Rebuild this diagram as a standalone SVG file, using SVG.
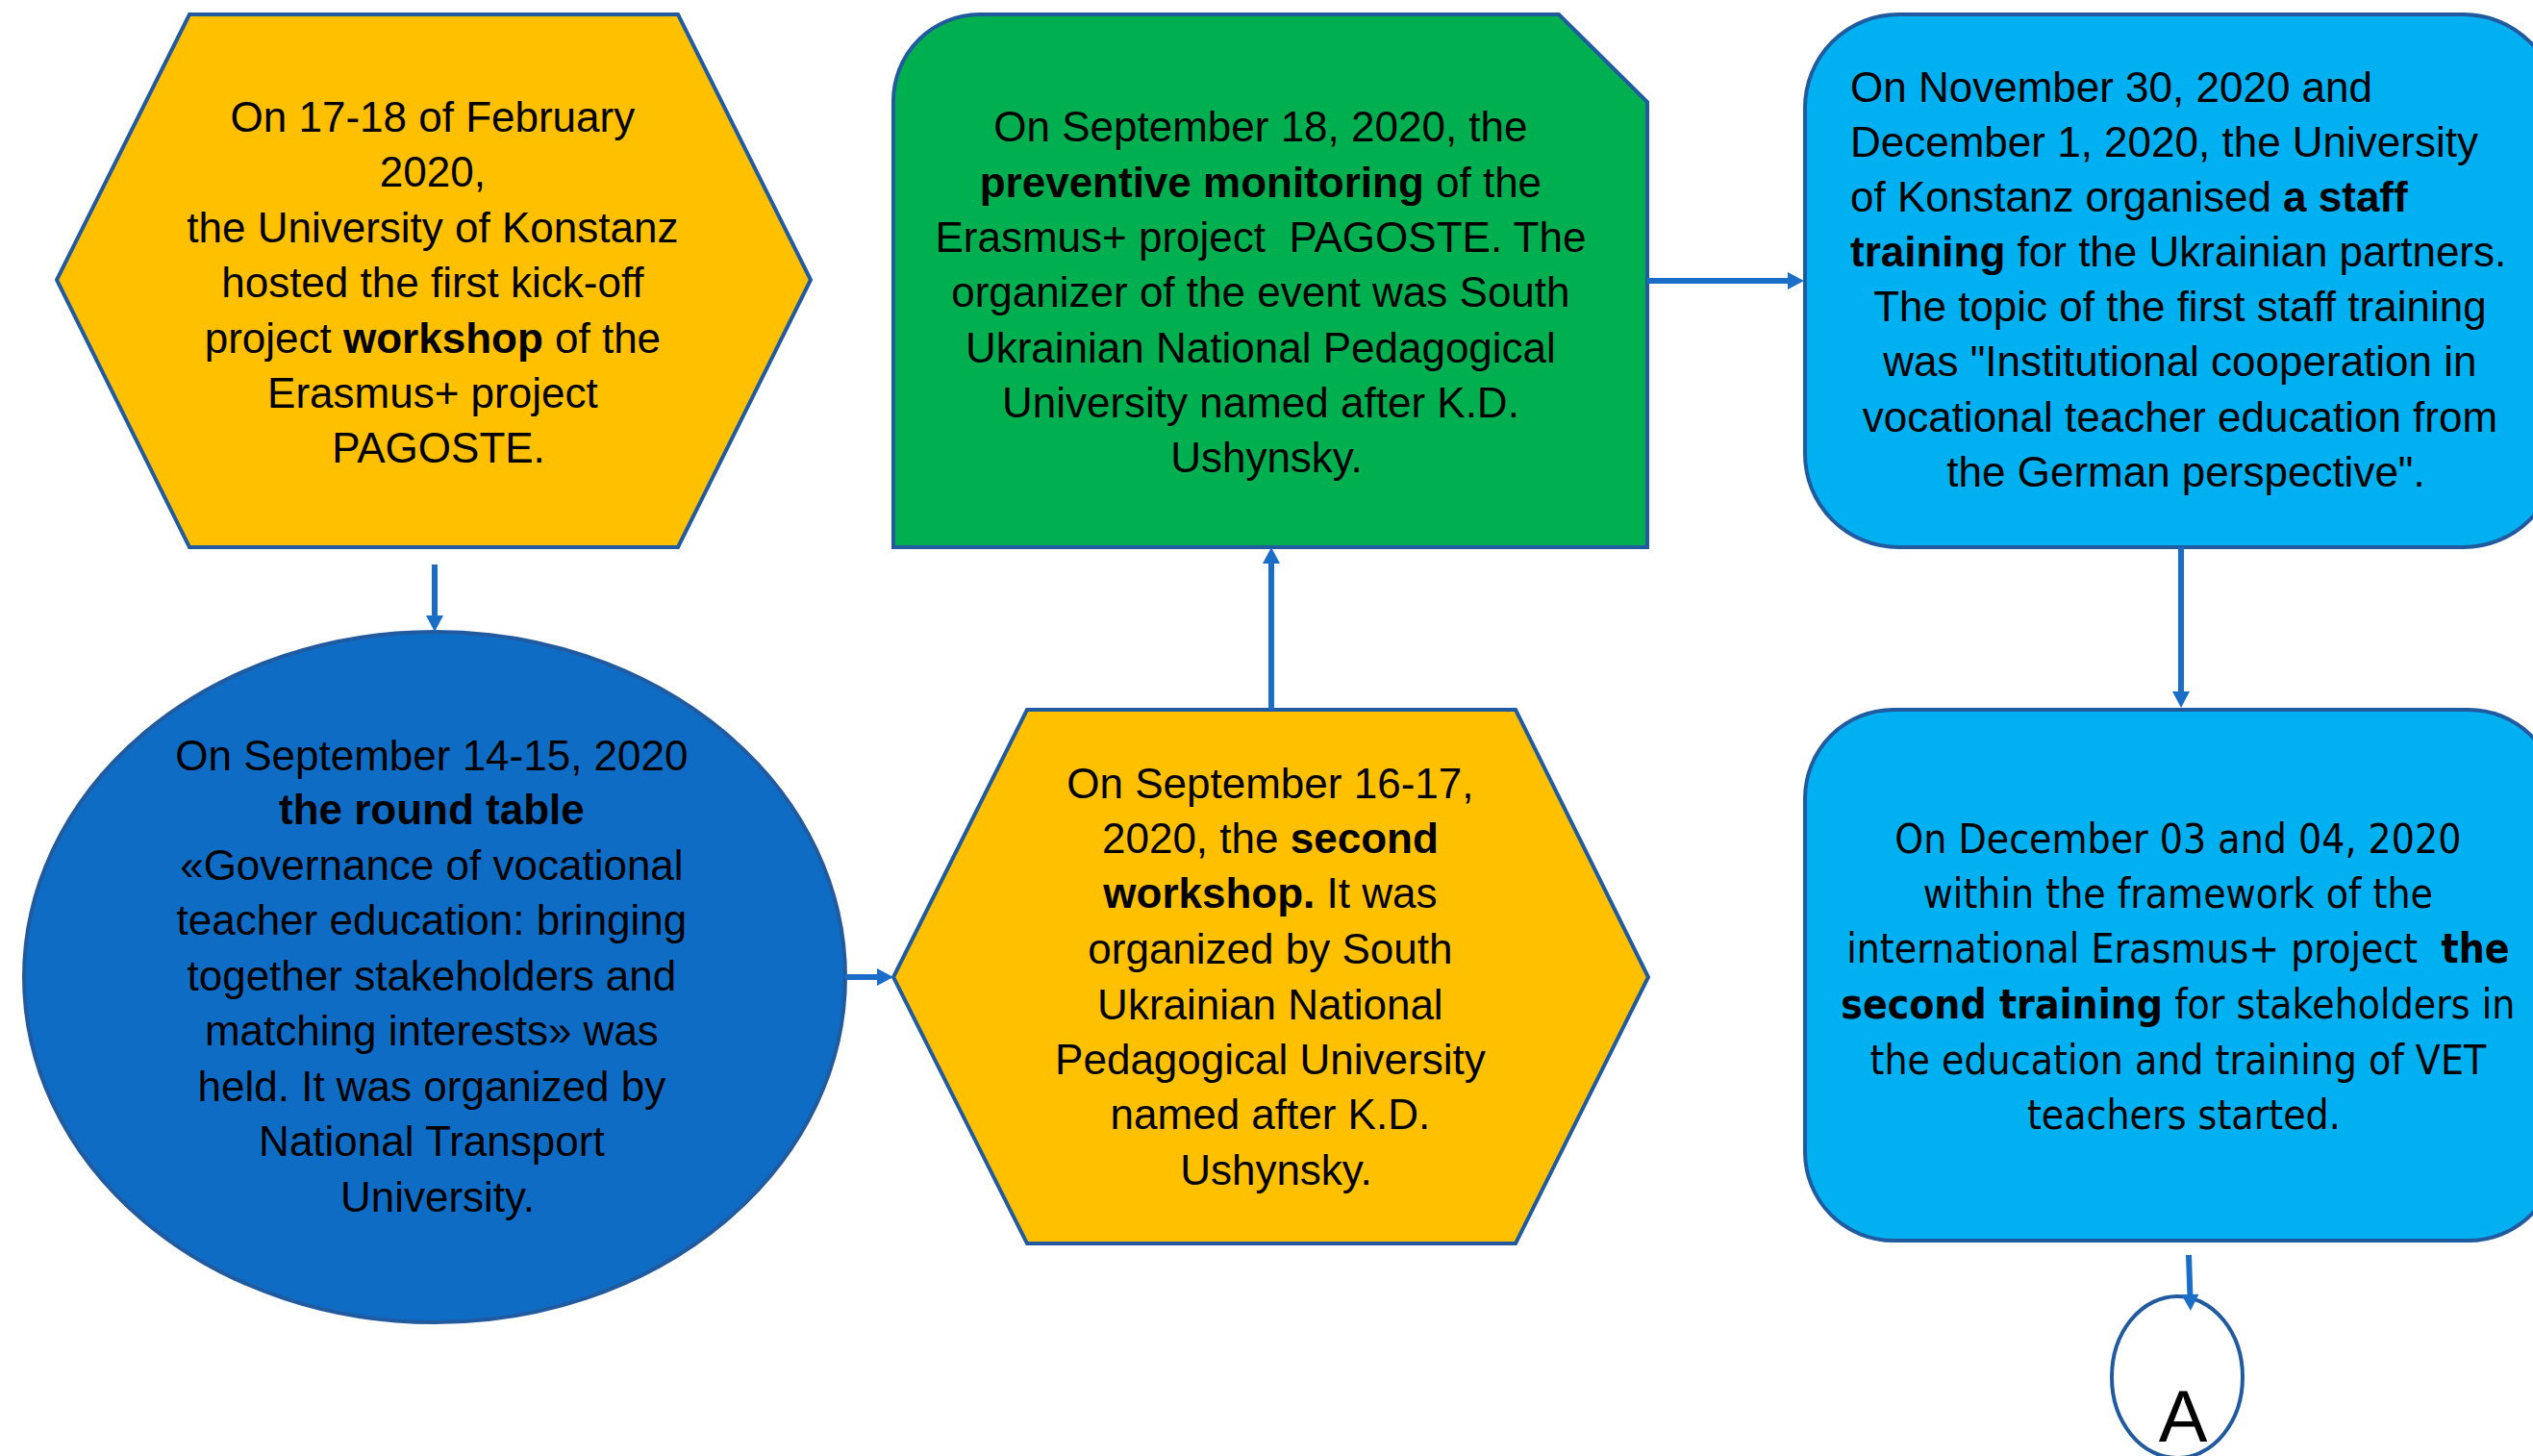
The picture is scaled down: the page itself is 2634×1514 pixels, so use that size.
<svg xmlns="http://www.w3.org/2000/svg" width="2634" height="1514" viewBox="0 0 2634 1514">
<style>
.node{stroke:#215A9E;stroke-width:4;}
.t{font-family:"Liberation Sans",Arial,sans-serif;font-size:44px;fill:#000;text-anchor:middle;}
.ts{text-anchor:start;}
.t2{font-family:"DejaVu Sans",Verdana,sans-serif;font-size:43px;fill:#000;text-anchor:middle;}
.b{font-weight:bold;}
.conn{stroke:#1B6EC8;stroke-width:6;fill:none;marker-end:url(#ah);}
</style>
<defs>
<marker id="ah" markerUnits="userSpaceOnUse" markerWidth="18" markerHeight="18" viewBox="0 0 17 18" refX="0" refY="9" orient="auto">
<path d="M0,0 L17,9 L0,18 Z" fill="#1B6EC8"/>
</marker>
</defs>
<rect width="2634" height="1514" fill="#fff"/>

<g id="node-kickoff">
<polygon class="node" fill="#FFC000" points="197,15 705,15 843,291 705,569 197,569 59,291"/>
<text class="t">
<tspan x="456" y="137">On 17-18 of February</tspan>
<tspan x="456" y="194">2020,</tspan>
<tspan x="456" y="252">the University of Konstanz</tspan>
<tspan x="456" y="309">hosted the first kick-off</tspan>
<tspan x="456" y="367">project <tspan class="b">workshop</tspan> of the</tspan>
<tspan x="456" y="424">Erasmus+ project</tspan>
<tspan x="456" y="481">PAGOSTE.</tspan>
</text>
</g>

<g id="node-roundtable">
<ellipse class="node" fill="#0F6CC4" cx="452" cy="1016" rx="427" ry="359"/>
<text class="t">
<tspan x="455" y="801">On September 14-15, 2020</tspan>
<tspan x="455" y="857" class="b">the round table</tspan>
<tspan x="455" y="915">«Governance of vocational</tspan>
<tspan x="455" y="972">teacher education: bringing</tspan>
<tspan x="455" y="1030">together stakeholders and</tspan>
<tspan x="455" y="1087">matching interests» was</tspan>
<tspan x="455" y="1145">held. It was organized by</tspan>
<tspan x="455" y="1202">National Transport</tspan>
<tspan x="455" y="1260">University.</tspan>
</text>
</g>

<g id="node-second-workshop">
<polygon class="node" fill="#FFC000" points="1068,738 1576,738 1714,1016 1576,1293 1068,1293 929,1016"/>
<text class="t">
<tspan x="1327" y="830">On September 16-17,</tspan>
<tspan x="1327" y="887">2020, the <tspan class="b">second</tspan></tspan>
<tspan x="1327" y="944"><tspan class="b">workshop.</tspan> It was</tspan>
<tspan x="1327" y="1002">organized by South</tspan>
<tspan x="1327" y="1060">Ukrainian National</tspan>
<tspan x="1327" y="1117">Pedagogical University</tspan>
<tspan x="1327" y="1174">named after K.D.</tspan>
<tspan x="1327" y="1232">Ushynsky.</tspan>
</text>
</g>

<g id="node-monitoring">
<path class="node" fill="#00B050" d="M929,105 A90,90 0 0 1 1019,15 H1621 L1713,106 V569 H929 Z"/>
<text class="t">
<tspan x="1317" y="147">On September 18, 2020, the</tspan>
<tspan x="1317" y="205"><tspan class="b">preventive monitoring</tspan> of the</tspan>
<tspan x="1317" y="262">Erasmus+ project &#160;PAGOSTE. The</tspan>
<tspan x="1317" y="319">organizer of the event was South</tspan>
<tspan x="1317" y="377">Ukrainian National Pedagogical</tspan>
<tspan x="1317" y="434">University named after K.D.</tspan>
<tspan x="1317" y="491">Ushynsky.</tspan>
</text>
</g>

<g id="node-staff-training">
<rect class="node" fill="#00B0F0" x="1877" y="15" width="782" height="554" rx="97" ry="97"/>
<text class="t ts">
<tspan x="1924" y="106">On November 30, 2020 and</tspan>
<tspan x="1924" y="163">December 1, 2020, the University</tspan>
<tspan x="1924" y="220">of Konstanz organised <tspan class="b">a staff</tspan></tspan>
<tspan x="1924" y="277"><tspan class="b">training</tspan> for the Ukrainian partners.</tspan>
</text>
<text class="t">
<tspan x="2273" y="334">The topic of the first staff training</tspan>
<tspan x="2273" y="391">was "Institutional cooperation in</tspan>
<tspan x="2273" y="449">vocational teacher education from</tspan>
<tspan x="2273" y="506">the German perspective".</tspan>
</text>
</g>

<g id="node-second-training">
<rect class="node" fill="#00B0F0" x="1877" y="738" width="782" height="552" rx="92" ry="92"/>
<text class="t2" transform="scale(0.885 1)">
<tspan x="2566" y="887">On December 03 and 04, 2020</tspan>
<tspan x="2566" y="944">within the framework of the</tspan>
<tspan x="2566" y="1001">international Erasmus+ project &#160;<tspan class="b">the</tspan></tspan>
<tspan x="2566" y="1059"><tspan class="b">second training</tspan> for stakeholders in</tspan>
<tspan x="2566" y="1117">the education and training of VET</tspan>
<tspan x="2566" y="1174">teachers started.</tspan>
</text>
</g>

<g id="node-A">
<ellipse class="node" fill="#fff" cx="2264" cy="1432" rx="68" ry="84"/>
<text x="2270" y="1499" style="font-family:'Liberation Sans',Arial,sans-serif;font-size:76px;fill:#000;text-anchor:middle;">A</text>
</g>

<g id="connectors">
<path class="conn" d="M452,587 V640"/>
<path class="conn" d="M879,1016 H912"/>
<path class="conn" d="M1322,738 V586"/>
<path class="conn" d="M1713,292 H1859"/>
<path class="conn" d="M2268,569 V719"/>
<path class="conn" d="M2276,1305 L2277.4,1346"/>
</g>
</svg>
